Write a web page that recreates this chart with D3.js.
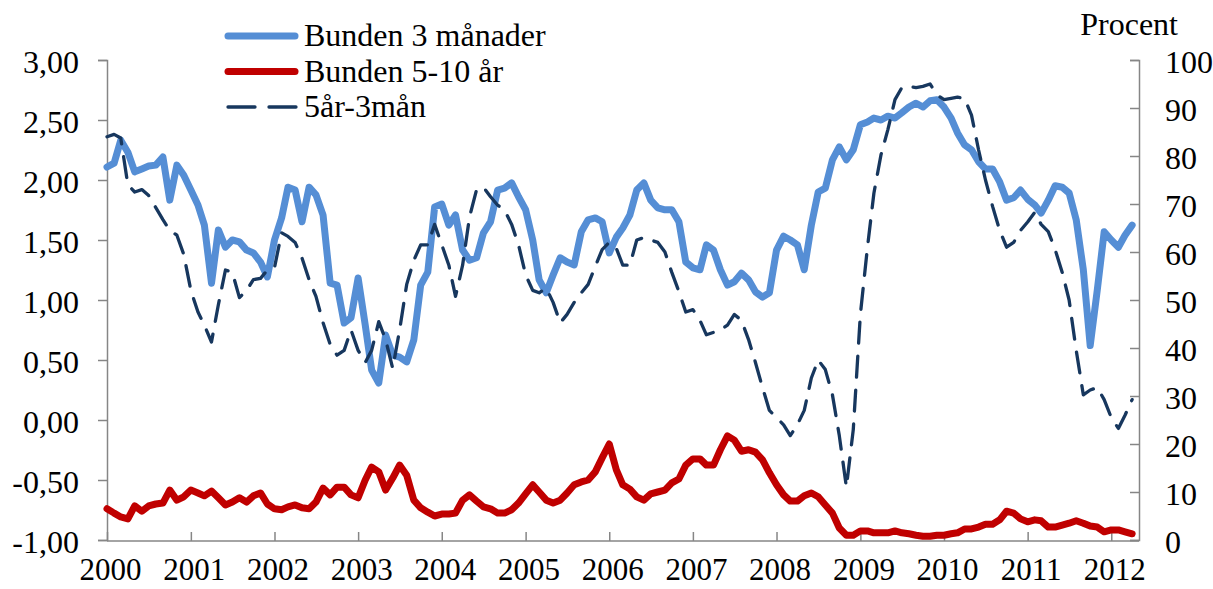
<!DOCTYPE html>
<html><head><meta charset="utf-8">
<script src="https://cdn.jsdelivr.net/npm/d3@7/dist/d3.min.js"></script>
<style>
html,body{margin:0;padding:0;background:#fff;}
svg{display:block;font-family:"Liberation Serif","Times New Roman",serif;}
</style></head>
<body>
<svg id="chart" width="1213" height="589"></svg>
<script>
// ---- data (monthly, Jan 2000 – Apr 2012) ----
const startMonth = "2000-01";
const bunden3man = [77.7,78.5,83.3,80.8,76.7,77.3,77.9,78.1,79.8,70.8,78.1,76.0,
72.9,69.8,65.6,53.5,64.6,61.0,62.5,62.1,60.4,59.8,57.9,54.8,
62.5,67.1,73.5,72.9,66.3,73.5,71.9,67.7,53.5,53.1,45.2,46.3,
54.6,44.8,35.4,32.7,42.7,38.5,38.1,37.1,41.7,53.1,55.8,69.4,
70.0,65.6,67.7,60.4,58.3,58.8,64.0,66.3,72.9,73.3,74.4,71.5,
68.8,62.5,54.2,51.5,55.2,58.8,57.9,57.3,64.2,66.7,67.1,66.3,
59.8,63.1,65.0,67.7,72.9,74.4,70.8,69.2,68.8,68.8,66.3,57.9,
56.7,56.3,61.5,60.4,56.3,53.1,53.8,55.6,54.2,51.7,50.6,51.5,
60.4,63.3,62.5,61.5,56.3,65.6,72.5,73.3,79.2,81.9,79.2,81.3,
86.5,87.1,87.9,87.5,88.3,87.9,89.0,90.2,91.0,90.2,91.5,91.7,
90.2,87.9,84.8,82.3,81.3,78.8,77.3,77.3,74.6,70.8,71.3,72.9,
71.0,69.8,68.1,70.8,73.8,73.5,72.3,66.7,56.3,40.5,52.1,64.2,
62.5,61.0,63.5,65.6];
const bunden5_10 = [6.5,5.6,4.8,4.4,7.1,6.0,7.1,7.5,7.7,10.4,8.3,9.0,
10.4,9.8,9.2,10.2,8.8,7.3,7.9,8.8,7.9,9.2,9.8,7.5,
6.5,6.3,6.9,7.3,6.7,6.5,7.9,10.8,9.4,11.0,11.0,9.4,
8.8,12.5,15.2,14.2,10.4,12.9,15.6,13.5,8.3,6.7,5.8,5.0,
5.4,5.4,5.6,8.3,9.4,8.1,6.9,6.5,5.6,5.6,6.3,7.7,
9.6,11.5,10.0,8.3,7.7,8.3,9.8,11.5,12.1,12.5,14.2,17.1,
20.0,14.6,11.5,10.6,9.0,8.3,9.6,10.0,10.4,11.9,12.7,15.6,
16.9,16.9,15.6,15.6,18.8,21.7,20.8,18.5,18.8,18.3,16.7,14.0,
11.5,9.4,8.1,8.1,9.2,9.8,9.0,7.3,5.6,2.5,1.0,1.0,
1.9,1.9,1.5,1.5,1.5,1.9,1.5,1.3,1.0,0.8,0.8,1.0,
1.0,1.3,1.5,2.3,2.3,2.7,3.3,3.3,4.2,6.0,5.6,4.4,
3.8,4.2,4.0,2.7,2.7,3.1,3.5,4.0,3.5,2.9,2.7,1.7,
2.1,2.1,1.7,1.3];
const spread5ar3man = [2.36,2.38,2.35,1.96,1.90,1.92,1.87,1.77,1.67,1.58,1.54,1.38,
1.08,0.90,0.79,0.65,0.96,1.25,1.23,1.02,1.08,1.17,1.18,1.25,
1.27,1.56,1.53,1.48,1.35,1.17,1.03,0.81,0.63,0.54,0.58,0.75,
0.58,0.48,0.58,0.82,0.67,0.43,0.75,1.13,1.33,1.46,1.46,1.63,
1.46,1.29,1.03,1.29,1.69,1.92,1.94,1.86,1.79,1.75,1.63,1.46,
1.21,1.08,1.06,1.10,0.98,0.81,0.88,0.98,1.06,1.13,1.28,1.42,
1.48,1.43,1.29,1.29,1.50,1.52,1.50,1.48,1.40,1.23,1.07,0.90,
0.92,0.83,0.71,0.73,0.75,0.79,0.88,0.83,0.67,0.48,0.27,0.08,
0.02,-0.04,-0.13,-0.04,0.08,0.35,0.50,0.42,0.21,-0.13,-0.56,-0.08,
0.88,1.44,1.89,2.21,2.42,2.67,2.77,2.78,2.77,2.78,2.80,2.71,
2.67,2.68,2.69,2.68,2.54,2.25,2.00,1.78,1.58,1.44,1.48,1.58,
1.65,1.73,1.63,1.57,1.42,1.23,1.00,0.58,0.21,0.25,0.27,0.17,
0.02,-0.07,0.04,0.17];
const leftTicks = [-1,-0.5,0,0.5,1,1.5,2,2.5,3];
const rightTicks = [0,10,20,30,40,50,60,70,80,90,100];
const yearLabels = ["2000","2001","2002","2003","2004","2005","2006","2007","2008","2009","2010","2011","2012"];
const seriesNames = ["Bunden 3 månader","Bunden 5-10 år","5år-3mån"];
const unitLabel = "Procent";

// ---- layout ----
const svg = d3.select("#chart");
const X0 = 107, X1 = 1139, Y0 = 540, Y1 = 60;
const FS = "32px";
const parse = d3.timeParse("%Y-%m");
const t0 = parse(startMonth);
const months = d3.range(bunden3man.length).map(i => d3.timeMonth.offset(t0, i));
const x = d3.scaleTime().domain([t0, d3.timeMonth.offset(t0, bunden3man.length)]).range([X0, X1]);
const yL = d3.scaleLinear().domain([-1, 3]).range([Y0, Y1]);
const yR = d3.scaleLinear().domain([0, 100]).range([Y0, Y1]);
const axisCol = "#868686";
const fmtL = v => d3.format(".2f")(v).replace(".", ",").replace("−","-");

// left axis
const gL = svg.append("g").attr("transform", `translate(${X0},0)`)
  .call(d3.axisLeft(yL).tickValues(leftTicks).tickSize(9).tickFormat(fmtL).tickPadding(19));
// right axis (inward ticks)
const gR = svg.append("g").attr("transform", `translate(${X1},0)`)
  .call(d3.axisRight(yR).tickValues(rightTicks).tickSize(-9).tickFormat(d3.format("d")));
// bottom axis (inward ticks)
const yearDates = yearLabels.map(s => parse(s + "-01"));
const gB = svg.append("g").attr("transform", `translate(0,${Y0 + 1})`)
  .call(d3.axisBottom(x).tickValues(yearDates).tickSize(-9).tickFormat((d, i) => yearLabels[i]));

[gL, gR, gB].forEach(g => {
  g.select(".domain").attr("stroke", axisCol).attr("stroke-width", 1.5);
  g.selectAll(".tick line").attr("stroke", axisCol).attr("stroke-width", 1.5);
  g.selectAll("text").attr("fill", "#000").style("font-size", FS)
    .style("font-family", '"Liberation Serif", serif');
});
gL.selectAll(".tick text").attr("dy", "0.38em");
gR.selectAll(".tick text").attr("dy", "0.38em").attr("text-anchor", "start").attr("x", 26);
gB.selectAll(".tick text").attr("y", 39).attr("dy", 0).attr("dx", 3).style("font-size", "31px");
gB.select(".domain").attr("d", `M${X0},0H${X1}`);

// lines
const lineR = d3.line().x((d, i) => x(months[i])).y(d => yR(d)).curve(d3.curveLinear);
const lineL = d3.line().x((d, i) => x(months[i])).y(d => yL(d)).curve(d3.curveLinear);

svg.append("path").datum(bunden5_10).attr("d", lineR)
  .attr("fill", "none").attr("stroke", "#C00000").attr("stroke-width", 7)
  .attr("stroke-linejoin", "round").attr("stroke-linecap", "round");
svg.append("path").datum(bunden3man).attr("d", lineR)
  .attr("fill", "none").attr("stroke", "#558ED5").attr("stroke-width", 7)
  .attr("stroke-linejoin", "round").attr("stroke-linecap", "round");
svg.append("path").datum(spread5ar3man).attr("d", lineL)
  .attr("fill", "none").attr("stroke", "#17375E").attr("stroke-width", 3.3)
  .attr("stroke-linejoin", "round").attr("stroke-linecap", "round")
  .attr("stroke-dasharray", "21,13");

// unit label
svg.append("text").attr("x", 1178).attr("y", 35).attr("text-anchor", "end")
  .style("font-size", FS).text(unitLabel);

// legend
const legCols = ["#558ED5", "#C00000", "#17375E"];
const legW = [7, 7, 3.3];
const leg = svg.append("g");
seriesNames.forEach((name, i) => {
  const yy = 36 + i * 35.5;
  const ln = leg.append("line").attr("x1", 228).attr("x2", 295).attr("y1", yy).attr("y2", yy)
    .attr("stroke", legCols[i]).attr("stroke-width", legW[i]).attr("stroke-linecap", "round");
  if (i === 2) ln.attr("stroke-dasharray", "27,14").attr("x1", 228).attr("x2", 297);
  leg.append("text").attr("x", 304).attr("y", yy + 10).style("font-size", FS).text(name);
});
</script>
</body></html>
